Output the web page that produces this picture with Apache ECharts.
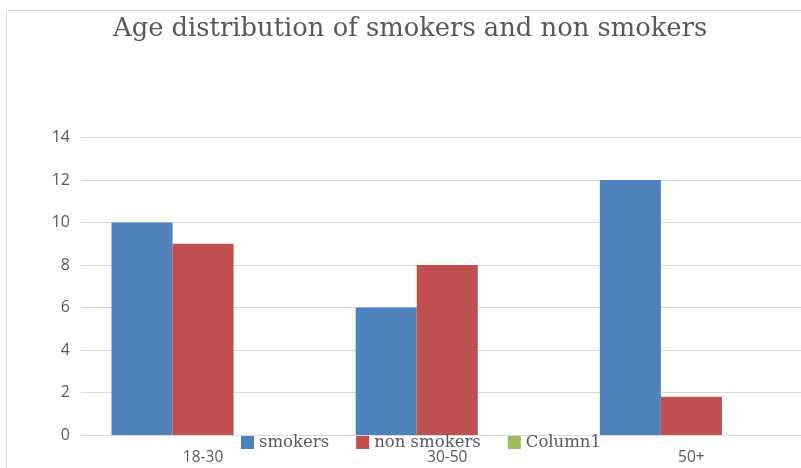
<!DOCTYPE html>
<html><head><meta charset="utf-8">
<script src="https://cdn.jsdelivr.net/npm/echarts@6/dist/echarts.min.js"></script>
<style>html,body{margin:0;padding:0;background:#fff;overflow:hidden}#c{width:814px;height:468px}</style>
</head><body><div id="c"></div>
<script>
const title = 'Age distribution of smokers and non smokers';
const categories = ['18-30', '30-50', '50+'];
const smokers = [10, 6, 12];
const nonSmokers = [9, 8, 1.8];
const column1 = [null, null, null];
const yTicks = { min: 0, max: 14, interval: 2 };

const chart = echarts.init(document.getElementById('c'), null, { renderer: 'canvas' });
chart.setOption({
  backgroundColor: '#fff',
  animation: false,
  title: {
    text: title, left: 108, top: 11,
    textStyle: { fontFamily: 'DejaVu Serif', fontSize: 25.8, fontWeight: 'normal', color: '#595959' }
  },
  graphic: [{
    type: 'rect', shape: { x: 6.5, y: 10.5, width: 820, height: 480 },
    style: { fill: 'none', stroke: '#d9d9d9', lineWidth: 1 }, silent: true, z: -1
  }],
  legend: {
    left: 241, top: 434, padding: 0, itemWidth: 13, itemHeight: 13, itemGap: 27,
    icon: 'rect',
    textStyle: { fontFamily: 'DejaVu Serif', fontSize: 16.5, color: '#595959' },
    data: ['smokers', 'non smokers', 'Column1']
  },
  grid: { left: 81, top: 137.5, right: 0.5, height: 297.5, containLabel: false },
  xAxis: {
    type: 'category', data: categories,
    axisLine: { lineStyle: { color: '#d9d9d9' } },
    axisTick: { show: false },
    axisLabel: { margin: 15, fontFamily: 'Open Sans', fontSize: 15.5, color: '#595959' }
  },
  yAxis: {
    type: 'value', min: yTicks.min, max: yTicks.max, interval: yTicks.interval,
    axisLine: { show: false }, axisTick: { show: false },
    splitLine: { lineStyle: { color: '#d9d9d9' } },
    axisLabel: { margin: 11, fontFamily: 'Open Sans', fontSize: 16, color: '#595959' }
  },
  series: [
    { name: 'smokers', type: 'bar', data: smokers, barGap: '0%', barCategoryGap: '25%', itemStyle: { color: '#4f81bd' } },
    { name: 'non smokers', type: 'bar', data: nonSmokers, itemStyle: { color: '#c0504d' } },
    { name: 'Column1', type: 'bar', data: column1, itemStyle: { color: '#9bbb59' } }
  ]
});
</script></body></html>
